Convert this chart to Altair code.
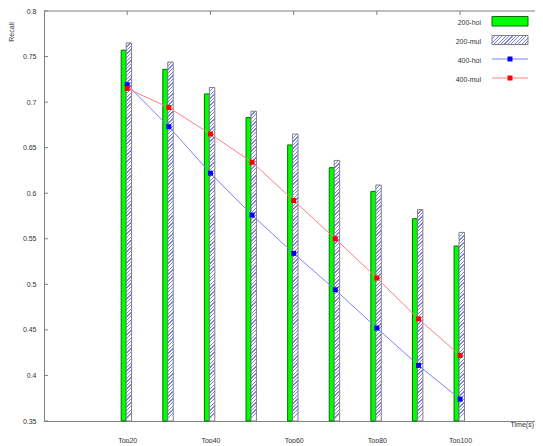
import altair as alt
import pandas as pd

# ---- data ----
groups = ["Top20", "Top30", "Top40", "Top50", "Top60", "Top70", "Top80", "Top90", "Top100"]
hoi200 = [0.757, 0.736, 0.709, 0.683, 0.653, 0.628, 0.602, 0.572, 0.542]
mul200 = [0.765, 0.744, 0.716, 0.690, 0.665, 0.636, 0.609, 0.582, 0.557]
hoi400 = [0.719, 0.673, 0.622, 0.576, 0.534, 0.494, 0.452, 0.411, 0.374]
mul400 = [0.715, 0.694, 0.665, 0.634, 0.592, 0.550, 0.507, 0.462, 0.422]
y_ticks = [0.35, 0.4, 0.45, 0.5, 0.55, 0.6, 0.65, 0.7, 0.75, 0.8]
x_tick_idx = [0, 2, 4, 6, 8]
x_tick_labels = ["Top20", "Top40", "Top60", "Top80", "Top100"]
legend_labels = ["200-hoi", "200-mul", "400-hoi", "400-mul"]
y_title = "Recall"
x_title = "Time(s)"

df = pd.DataFrame({
    "idx": list(range(len(groups))),
    "group": groups,
    "hoi200": hoi200,
    "mul200": mul200,
    "hoi400": hoi400,
    "mul400": mul400,
})

FONT = "Liberation Sans"
TXT = "#333333"
FRAME = "#808080"
GREEN, GREEN_EDGE = "#00ff00", "#007000"
HATCH_LINE, HATCH_BG, HATCH_EDGE = "#8080ee", "#ffffff", "#808080"
BLUE_LINE, BLUE_PT = "#8080ff", "#0000ff"
RED_LINE, RED_PT = "#ff8080", "#ff0000"
Y0, Y1 = 0.35, 0.8
X0, X1 = -2, 9.8
W, H = 491, 410
TOP = 3
PX_PER_UNIT = W / (X1 - X0)
H0, H1 = -0.025, 0.105  # hatched bar offsets around the group position

xscale = alt.Scale(domain=[X0, X1], nice=False, zero=False)
yscale = alt.Scale(domain=[Y0, Y1], nice=False, zero=False)

label_arr = "[" + ",".join("'%s'" % s for s in x_tick_labels) + "]"
xaxis = alt.Axis(values=x_tick_idx, labelExpr=label_arr + "[datum.value/2]",
                 ticks=False, domain=True, domainColor=FRAME, grid=False, labelPadding=15,
                 labelFontSize=7, labelFont=FONT, labelColor=TXT, title=None)
yaxis = alt.Axis(values=y_ticks, format="~g", ticks=False, domain=True, domainColor=FRAME,
                 grid=False, labelPadding=8, labelFontSize=7, labelFont=FONT,
                 labelColor=TXT, title=None)


def X(field):
    return alt.X(field, scale=xscale, axis=xaxis)


def Y(field):
    return alt.Y(field, scale=yscale, axis=yaxis)


def hatch_fill(w_px, h_px, period=3.6):
    """Diagonal (////) stripes built from a linear gradient over the box."""
    n = max(2, int(round(h_px / period)))
    stops = []
    for k in range(n):
        a = k / n
        b = (k + 0.38) / n
        c = (k + 1) / n
        stops += [alt.GradientStop(offset=a, color=HATCH_LINE),
                  alt.GradientStop(offset=b, color=HATCH_LINE),
                  alt.GradientStop(offset=b, color=HATCH_BG),
                  alt.GradientStop(offset=c, color=HATCH_BG)]
    return alt.LinearGradient(gradient="linear", stops=stops,
                              x1=0, y1=0, x2=w_px / h_px, y2=1)


base = alt.Chart(df).transform_calculate(
    g0="datum.idx - 0.145", g1="datum.idx - 0.025",
    h0="datum.idx + (%f)" % H0, h1="datum.idx + (%f)" % H1, b=str(Y0))

green = base.mark_rect(fill=GREEN, stroke=GREEN_EDGE, strokeWidth=1).encode(
    x=X("g0:Q"), x2="g1:Q", y=Y("hoi200:Q"), y2="b:Q")

hatch_w = (H1 - H0) * PX_PER_UNIT
hatches = []
for i, v in enumerate(mul200):
    h_px = (v - Y0) / (Y1 - Y0) * H
    hatches.append(
        base.transform_filter("datum.idx == %d" % i).mark_rect(
            fill=hatch_fill(hatch_w, h_px), stroke=HATCH_EDGE, strokeWidth=1
        ).encode(x=X("h0:Q"), x2="h1:Q", y=Y("mul200:Q"), y2="b:Q"))

blue_line = base.mark_line(color=BLUE_LINE, strokeWidth=1).encode(
    x=X("idx:Q"), y=Y("hoi400:Q"))
blue_pts = base.mark_square(size=25, color=BLUE_PT, opacity=1).encode(
    x=X("idx:Q"), y=Y("hoi400:Q"))
red_line = base.mark_line(color=RED_LINE, strokeWidth=1).encode(
    x=X("idx:Q"), y=Y("mul400:Q"))
red_pts = base.mark_square(size=25, color=RED_PT, opacity=1).encode(
    x=X("idx:Q"), y=Y("mul400:Q"))


def one():
    return alt.Chart(alt.Data(values=[{"k": 1}]))


# frame top + inward ticks (gnuplot style)
top_border = one().mark_rule(color=FRAME).encode(
    x=alt.value(0), x2=alt.value(W), y=alt.value(0))
yt = alt.Chart(pd.DataFrame({"v": y_ticks}))
left_ticks = yt.mark_rule(color=FRAME).encode(
    y=Y("v:Q"), x=alt.value(0), x2=alt.value(4))
xt = alt.Chart(pd.DataFrame({"p": x_tick_idx}))
top_ticks = xt.mark_rule(color=FRAME).encode(
    x=X("p:Q"), y=alt.value(0), y2=alt.value(4))

# titles
ytitle = alt.Chart(alt.Data(values=[{"t": y_title}])).mark_text(
    angle=270, fontSize=7, font=FONT, color=TXT, baseline="middle", align="center"
).encode(x=alt.value(-32), y=alt.value(21), text="t:N")
xtitle = alt.Chart(alt.Data(values=[{"t": x_title}])).mark_text(
    align="right", baseline="alphabetic", fontSize=7, font=FONT, color=TXT
).encode(x=alt.value(W - 1), y=alt.value(416), text="t:N")


# legend (text left of the key, as in gnuplot)
def leg_text(i, yc):
    return alt.Chart(alt.Data(values=[{"t": legend_labels[i]}])).mark_text(
        align="right", baseline="middle", fontSize=7, font=FONT, color=TXT
    ).encode(x=alt.value(437), y=alt.value(yc + 1.5), text="t:N")


leg_hatch = alt.LinearGradient(
    gradient="linear", x1=0, y1=0, x2=1.25, y2=0.3125,
    stops=[s for k in range(14) for s in (
        alt.GradientStop(offset=k / 14, color=HATCH_LINE),
        alt.GradientStop(offset=(k + 0.3) / 14, color=HATCH_LINE),
        alt.GradientStop(offset=(k + 0.3) / 14, color=HATCH_BG),
        alt.GradientStop(offset=(k + 1) / 14, color=HATCH_BG))])

legend = [
    leg_text(0, 10),
    one().mark_rect(fill=GREEN, stroke=GREEN_EDGE, strokeWidth=1).encode(
        x=alt.value(448), x2=alt.value(484), y=alt.value(5.5), y2=alt.value(15)),
    leg_text(1, 29),
    one().mark_rect(fill=leg_hatch, stroke=HATCH_EDGE, strokeWidth=1).encode(
        x=alt.value(448), x2=alt.value(484), y=alt.value(24.5), y2=alt.value(33.5)),
    leg_text(2, 48),
    one().mark_rule(color=BLUE_LINE, strokeWidth=1).encode(
        x=alt.value(448), x2=alt.value(484), y=alt.value(48)),
    one().mark_square(size=25, color=BLUE_PT, opacity=1).encode(
        x=alt.value(466), y=alt.value(48)),
    leg_text(3, 67),
    one().mark_rule(color=RED_LINE, strokeWidth=1).encode(
        x=alt.value(448), x2=alt.value(484), y=alt.value(67)),
    one().mark_square(size=25, color=RED_PT, opacity=1).encode(
        x=alt.value(466), y=alt.value(67)),
]

chart = alt.layer(
    green, *hatches, blue_line, red_line, blue_pts, red_pts,
    top_border, left_ticks, top_ticks, ytitle, xtitle, *legend
).properties(
    width=W, height=H, autosize="none",
    padding={"left": 36, "top": TOP, "right": 0, "bottom": 22},
    background="white",
).configure_view(stroke=None)

chart.save("out.html", embed_options={"renderer": "svg", "actions": False})
